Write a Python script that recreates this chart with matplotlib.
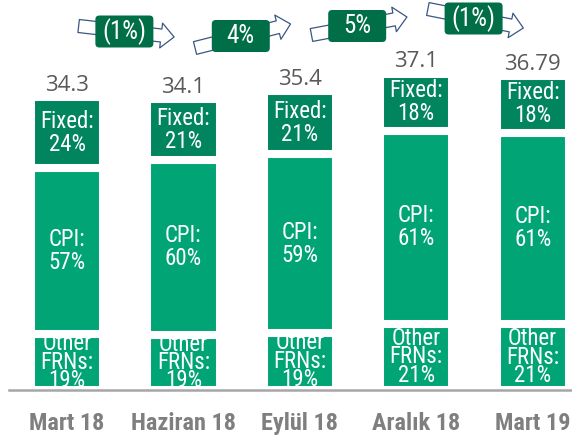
import matplotlib

matplotlib.use("Agg")
import matplotlib.pyplot as plt
import numpy as np
from matplotlib.patches import ArrowStyle, FancyArrowPatch, FancyBboxPatch
from matplotlib.transforms import IdentityTransform

# Debt stock by instrument, per quarter
periods = ["Mart 18", "Haziran 18", "Eylül 18", "Aralık 18", "Mart 19"]
totals = [34.3, 34.1, 35.4, 37.1, 36.79]
total_labels = ["34.3", "34.1", "35.4", "37.1", "36.79"]
other_frn_pct = [19, 19, 19, 21, 21]
cpi_pct = [57, 60, 59, 61, 61]
fixed_pct = [24, 21, 21, 18, 18]
changes = ["(1%)", "4%", "5%", "(1%)"]

NARROW = ["Roboto Condensed", "Archivo Narrow", "DejaVu Sans"]
REGULAR = ["Open Sans", "Liberation Sans", "DejaVu Sans"]
C_FIXED = "#00855F"
C_CPI = "#00A475"
C_BOX = "#006F47"
C_ARROW = "#3A5683"

W, H, DPI = 572, 440, 100
PX_PER_UNIT = 8.53
AX_LEFT_PX, AX_BOTTOM_PX = 8.8, 50
AX_H_PX = 390

fig = plt.figure(figsize=(W / DPI, H / DPI), dpi=DPI)
ax = fig.add_axes([AX_LEFT_PX / W, AX_BOTTOM_PX / H, 1 - AX_LEFT_PX / W, AX_H_PX / H])
ax.set_xlim(-0.5, 4.338)
ax.set_ylim(0, AX_H_PX / PX_PER_UNIT)

x = np.arange(len(periods))
tot = np.array(totals)
h_other = tot * np.array(other_frn_pct) / 100
h_cpi = tot * np.array(cpi_pct) / 100
h_fixed = tot * np.array(fixed_pct) / 100
tops = h_other + h_cpi + h_fixed

# white edges give the gaps between stacked segments
bar_kw = dict(width=0.62, edgecolor="white", linewidth=5.8)
ax.bar(x, h_other, color=C_CPI, **bar_kw)
ax.bar(x, h_cpi, bottom=h_other, color=C_CPI, **bar_kw)
ax.bar(x, h_fixed, bottom=h_other + h_cpi, color=C_FIXED, **bar_kw)

txt_kw = dict(ha="center", va="center", color="white", family=NARROW, fontsize=16.5)
for i in range(len(periods)):
    ax.text(x[i], h_other[i] / 2, f"Other\nFRNs:\n{other_frn_pct[i]}%",
            linespacing=0.74, **txt_kw)
    ax.text(x[i], h_other[i] + h_cpi[i] / 2, f"CPI:\n{cpi_pct[i]}%",
            linespacing=1.0, **txt_kw)
    ax.text(x[i], h_other[i] + h_cpi[i] + h_fixed[i] / 2, f"Fixed:\n{fixed_pct[i]}%",
            linespacing=1.0, **txt_kw)

for i, lbl in enumerate(total_labels):
    ax.annotate(lbl, (x[i], tops[i]), xytext=(0, 8.6), textcoords="offset points",
                ha="center", va="center", fontsize=16, color="#595959", family=REGULAR,
                annotation_clip=False)

for i, p in enumerate(periods):
    ax.annotate(p, (x[i], 0), xytext=(0, -24.1), textcoords="offset points",
                ha="center", va="center", fontsize=17.5, fontweight="bold",
                color="#7F7F7F", family=NARROW, annotation_clip=False)

for side in ("top", "left", "right"):
    ax.spines[side].set_visible(False)
ax.spines["bottom"].set_color("#A6A6A6")
ax.spines["bottom"].set_linewidth(1.8)
ax.set_xticks([])
ax.set_yticks([])

# period-on-period change: outlined block arrow from one bar to the next
arrow_y_tail = [26, 48, 35, 9]
arrow_y_tip = [37, 24, 17, 28]
style = ArrowStyle("simple", head_length=9.4, head_width=18, tail_width=9.4)
for i, chg in enumerate(changes):
    x0 = ax.transData.transform((x[i] + 0.1, 0))[0]
    x1 = ax.transData.transform((x[i + 1] - 0.08, 0))[0]
    y0 = H - arrow_y_tail[i]
    y1 = H - arrow_y_tip[i]
    fig.add_artist(FancyArrowPatch((x0, y0), (x1, y1), arrowstyle=style, mutation_scale=1,
                                   transform=IdentityTransform(), fc="white", ec=C_ARROW,
                                   lw=0.9, shrinkA=0, shrinkB=0, zorder=3))
    cx, cy = (x0 + x1) / 2 - 2, (y0 + y1) / 2
    fig.add_artist(FancyBboxPatch((cx - 29, cy - 16), 58, 32,
                                  boxstyle="round,pad=0,rounding_size=4",
                                  transform=IdentityTransform(), fc=C_BOX, ec="none",
                                  zorder=4))
    fig.text(cx, cy, chg, transform=IdentityTransform(), ha="center", va="center",
             color="white", fontsize=18, family=NARROW, zorder=5)

fig.savefig("out.png", dpi=DPI)
